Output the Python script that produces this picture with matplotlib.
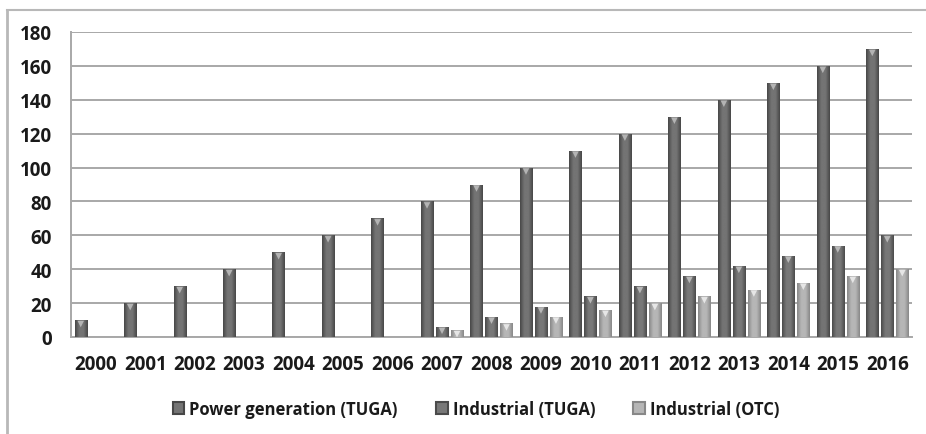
import matplotlib
matplotlib.use("Agg")
import matplotlib.pyplot as plt
import numpy as np
from matplotlib.lines import Line2D
from matplotlib.patches import Patch
import matplotlib.transforms as mtransforms
from matplotlib.colors import LinearSegmentedColormap

years = [str(y) for y in range(2000, 2017)]
power_tuga = [10, 20, 30, 40, 50, 60, 70, 80, 90, 100, 110, 120, 130, 140, 150, 160, 170]
industrial_tuga = [0, 0, 0, 0, 0, 0, 0, 6, 12, 18, 24, 30, 36, 42, 48, 54, 60]
industrial_otc = [0, 0, 0, 0, 0, 0, 0, 4, 8, 12, 16, 20, 24, 28, 32, 36, 40]
series_names = ["Power generation (TUGA)", "Industrial (TUGA)", "Industrial (OTC)"]
y_ticks = [0, 20, 40, 60, 80, 100, 120, 140, 160, 180]

plt.rcParams['font.family'] = ['Open Sans', 'DejaVu Sans']

fig = plt.figure(figsize=(9.26, 4.35), dpi=100)
ax = fig.add_axes([71/926, 1-338/435, (912-71)/926, (338-33)/435])

x = np.arange(len(years))
offs = [-0.303, 0.0, 0.303]
bw = 0.25
series = [power_tuga, industrial_tuga, industrial_otc]
# (edge dark, mid light, triangle colour)
styles = [("#474747", "#747474", "#b4b4b4"),
          ("#4b4b4b", "#787878", "#b8b8b8"),
          ("#888888", "#b6b6b6", "#e6e6e6")]

for vals, off, (dark, light, tri) in zip(series, offs, styles):
    cmap = LinearSegmentedColormap.from_list("g", [dark, light, light, dark])
    bars = ax.bar(x + off, vals, width=bw, color=light, edgecolor="none", zorder=3)
    grad = np.linspace(0, 1, 64).reshape(1, -1)
    for b, v in zip(bars, vals):
        if v <= 0:
            continue
        x0, w, h = b.get_x(), b.get_width(), b.get_height()
        im = ax.imshow(grad, cmap=cmap, aspect="auto",
                       extent=(x0, x0 + w, 0, h), zorder=3.5,
                       interpolation="bilinear")
        im.set_clip_path(b)
    xs = [xi + off for xi, v in zip(x, vals) if v > 0]
    ys = [v for v in vals if v > 0]
    trans = ax.transData + mtransforms.ScaledTranslation(0, -4/100, fig.dpi_scale_trans)
    ax.scatter(xs, ys, marker="v", s=22, color=tri, edgecolors="none",
               zorder=4, transform=trans)

ax.set_xlim(-0.5, len(years) - 0.5)
ax.set_ylim(0, 180)
ax.set_yticks(y_ticks)
ax.set_xticks(x)
ax.set_xticklabels(years)
ax.tick_params(axis="both", length=0, labelsize=13.5, colors="#1a1a1a")
ax.tick_params(axis="y", pad=14)
ax.tick_params(axis="x", pad=12)
for lab in ax.get_xticklabels() + ax.get_yticklabels():
    lab.set_fontweight("bold")

ax.grid(axis="y", color="#a8a8a8", linewidth=1.4, zorder=0)
ax.set_axisbelow(True)
for s in ["top", "right"]:
    ax.spines[s].set_visible(False)
ax.spines["left"].set_color("#a8a8a8")
ax.spines["left"].set_linewidth(1.4)
ax.spines["bottom"].set_color("#a8a8a8")
ax.spines["bottom"].set_linewidth(1.4)

handles = [Patch(facecolor=styles[i][1], edgecolor=styles[i][0], linewidth=1.5)
           for i in range(3)]
leg = fig.legend(handles, series_names, loc="center", bbox_to_anchor=(476/926, 1-410/435),
                 ncol=3, frameon=False, handlelength=0.7, handleheight=0.7,
                 handletextpad=0.3, columnspacing=2.3,
                 prop={"family": ["Open Sans", "DejaVu Sans"], "weight": "bold", "size": 12})
for t in leg.get_texts():
    t.set_color("#1a1a1a")

fig.add_artist(Line2D([6.5/926, 1], [1-10.5/435, 1-10.5/435], transform=fig.transFigure,
                      color="#b8b8b8", linewidth=1.5))
fig.add_artist(Line2D([6.5/926, 6.5/926], [0, 1-10.5/435], transform=fig.transFigure,
                      color="#b8b8b8", linewidth=2))

fig.savefig("out.png", dpi=100)
